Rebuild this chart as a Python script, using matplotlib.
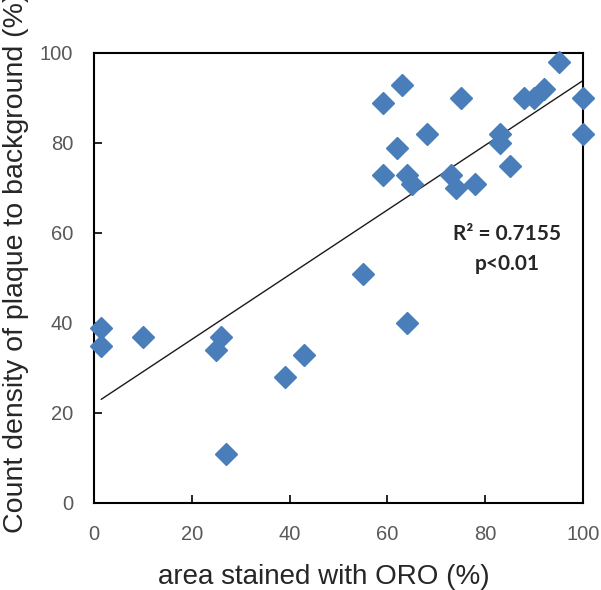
import matplotlib
matplotlib.use("Agg")
import matplotlib.pyplot as plt
import numpy as np

# Data
oro_area = [59, 63, 95, 75, 88, 90, 92, 100, 100, 68, 62, 59, 64, 65, 73, 74, 78,
            83, 83, 85, 55, 64, 1.5, 1.5, 10, 25, 26, 39, 43, 27]
count_density = [89, 93, 98, 90, 90, 90, 92, 90, 82, 82, 79, 73, 73, 71, 73, 70, 71,
                 82, 80, 75, 51, 40, 39, 35, 37, 34, 37, 28, 33, 11]
x_ticks = [0, 20, 40, 60, 80, 100]
y_ticks = [0, 20, 40, 60, 80, 100]

x = np.array(oro_area, dtype=float)
y = np.array(count_density, dtype=float)
slope, intercept = np.polyfit(x, y, 1)

fig = plt.figure(figsize=(6.01, 5.90), dpi=100)
ax = fig.add_axes([94/601, 1 - 503/590, (583-94)/601, (503-53)/590])

xl = np.array([x.min(), x.max()])
ax.plot(xl, slope*xl + intercept, color='#1a1a1a', lw=1.0, zorder=2)
ax.plot(x, y, linestyle='none', marker='D', ms=11, color='#4A7EBB',
        markeredgecolor='#4A7EBB', zorder=3, clip_on=False)

ax.set_xlim(0, 100)
ax.set_ylim(0, 100)
ax.set_xticks(x_ticks)
ax.set_yticks(y_ticks)
ax.tick_params(direction='in', length=6, width=1.2, colors='black',
               labelcolor='#595959', labelsize=14.5)
ax.tick_params(axis='x', pad=16)
ax.tick_params(axis='y', pad=15)
for lab in ax.get_xticklabels() + ax.get_yticklabels():
    lab.set_family('Liberation Sans')
for s in ax.spines.values():
    s.set_linewidth(1.5)
    s.set_color('black')

ax.set_xlabel('area stained with ORO (%)', fontsize=20, family='Liberation Sans',
              color='#262626')
ax.xaxis.set_label_coords((324 - 94) / 489, (503 - 564) / 450)
ax.xaxis.label.set_va('top')
ax.set_ylabel('Count density of plaque to background (%)', fontsize=20.5,
              family='Liberation Sans', color='#262626')
ax.yaxis.set_label_coords((3 - 94) / 489, (503 - 263) / 450)
ax.yaxis.label.set_va('top')

ax.text(84.5, 59.8, 'R² = 0.7155', fontsize=15, fontweight='bold', family='Lato',
        ha='center', va='center', color='#262626')
ax.text(84.5, 53.2, 'p<0.01', fontsize=15, fontweight='bold', family='Lato',
        ha='center', va='center', color='#262626')

fig.savefig('out.png', dpi=100)
